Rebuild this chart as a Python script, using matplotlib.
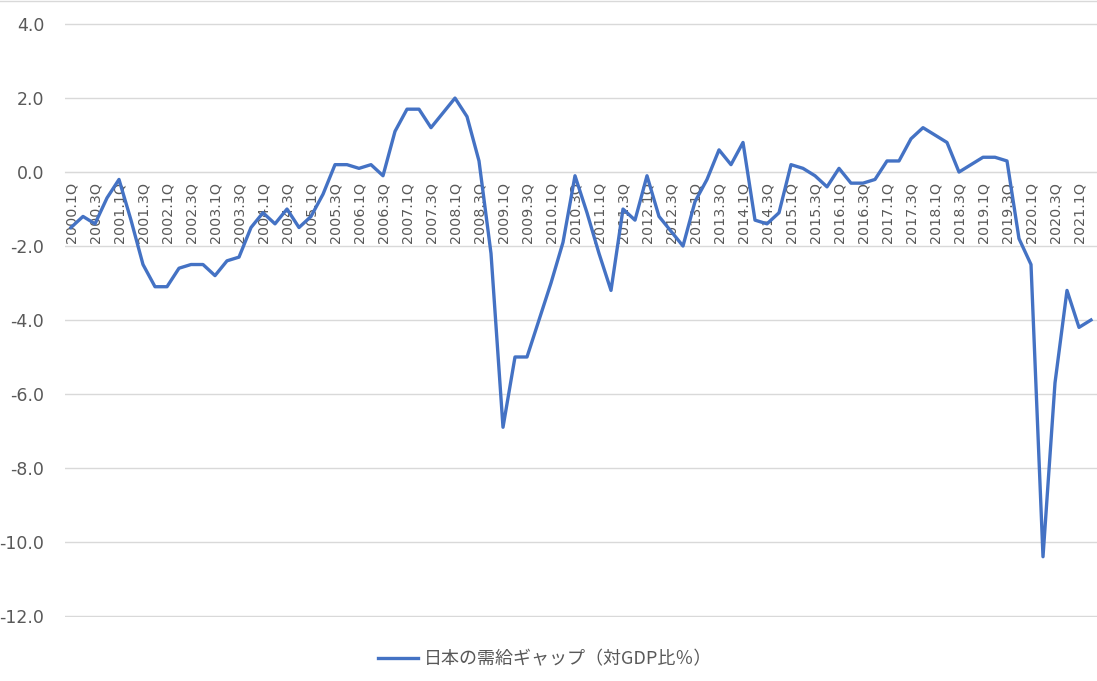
import matplotlib
matplotlib.use("Agg")
import matplotlib.pyplot as plt
from matplotlib.lines import Line2D


# data
# ----------
years = list(range(2000, 2022))
quarters = [f"{y}.{q}Q" for y in years for q in range(1, 5)][:86]  # 2000.1Q .. 2021.2Q

gap = [-1.5, -1.2, -1.4, -0.7,   # 2000
       -0.2, -1.3, -2.5, -3.1,   # 2001
       -3.1, -2.6, -2.5, -2.5,   # 2002
       -2.8, -2.4, -2.3, -1.5,   # 2003
       -1.1, -1.4, -1.0, -1.5,   # 2004
       -1.2, -0.6, 0.2, 0.2,     # 2005
       0.1, 0.2, -0.1, 1.1,      # 2006
       1.7, 1.7, 1.2, 1.6,       # 2007
       2.0, 1.5, 0.3, -2.2,      # 2008
       -6.9, -5.0, -5.0, -4.0,   # 2009
       -3.0, -1.9, -0.1, -1.1,   # 2010
       -2.2, -3.2, -1.0, -1.3,   # 2011
       -0.1, -1.2, -1.6, -2.0,   # 2012
       -0.8, -0.2, 0.6, 0.2,     # 2013
       0.8, -1.3, -1.4, -1.1,    # 2014
       0.2, 0.1, -0.1, -0.4,     # 2015
       0.1, -0.3, -0.3, -0.2,    # 2016
       0.3, 0.3, 0.9, 1.2,       # 2017
       1.0, 0.8, 0.0, 0.2,       # 2018
       0.4, 0.4, 0.3, -1.8,      # 2019
       -2.5, -10.4, -5.7, -3.2,  # 2020
       -4.2, -4.0]               # 2021

y_ticks = [4, 2, 0, -2, -4, -6, -8, -10, -12]
series_label = "日本の需給ギャップ（対GDP比％）"

# plot settings
# ----------
plt.rcParams["font.family"] = ["DejaVu Sans", "Noto Sans CJK JP"]

color_line = "#4472C4"
color_grid = "#D9D9D9"
color_text = "#595959"

fig = plt.figure(figsize=(10.97, 6.81), dpi=100)
ax = fig.add_axes([65 / 1097, 64 / 681, 1032 / 1097, 594 / 681])

x = list(range(len(gap)))
ax.plot(x, gap, color=color_line, lw=2.4, label=series_label, zorder=3)

# category axis crosses at 0, labels hang below it
for side in ["top", "right", "left"]:
    ax.spines[side].set_visible(False)
ax.spines["bottom"].set_position(("data", 0))
ax.spines["bottom"].set_color(color_grid)

ax.set_xlim(-0.5, len(gap) - 0.5)
ax.set_ylim(-12.03, 4.03)
ax.set_yticks(y_ticks)
ax.set_yticklabels([f"{v:.1f}" for v in y_ticks])
ax.yaxis.grid(True, color=color_grid, lw=1.0)
ax.set_axisbelow(True)

ax.set_xticks(x[::2])
ax.set_xticklabels(quarters[::2])
ax.tick_params(axis="x", length=0, pad=7, labelrotation=90,
               labelsize=10.3, labelcolor=color_text)
ax.tick_params(axis="y", length=0, pad=15, labelsize=12.5, labelcolor=color_text)

# legend
# ----------
fig.legend(loc="center", bbox_to_anchor=(545 / 1097, 1 - 659 / 681),
           frameon=False, handlelength=2.2, handletextpad=0.3,
           prop={"family": ["Noto Sans CJK JP", "DejaVu Sans"], "size": 13},
           labelcolor=color_text)

# chart border at top
fig.add_artist(Line2D([0, 1], [0.999, 0.999], transform=fig.transFigure,
                      color=color_grid, lw=1))

# display
# ----------
fig.savefig("out.png", dpi=100)
